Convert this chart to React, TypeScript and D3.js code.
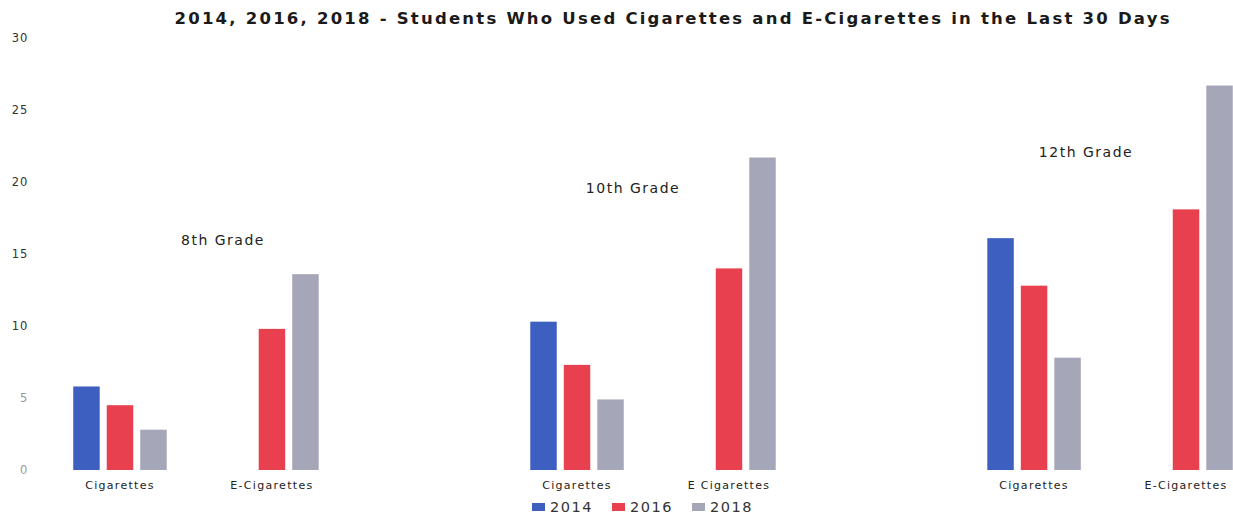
import React from "react";
import * as d3 from "d3";

const grades = ["8th Grade", "10th Grade", "12th Grade"];
const products = ["Cigarettes", "E-Cigarettes"];
const productLabels = [
  ["Cigarettes", "E-Cigarettes"],
  ["Cigarettes", "E Cigarettes"],
  ["Cigarettes", "E-Cigarettes"],
];
const years = ["2014", "2016", "2018"];
// values[grade][product]; null = not reported
const values2014 = [[5.8, null], [10.3, null], [16.1, null]];
const values2016 = [[4.5, 9.8], [7.3, 14.0], [12.8, 18.1]];
const values2018 = [[2.8, 13.6], [4.9, 21.7], [7.8, 26.7]];
const gradeLabelValue = [16.0, 19.6, 22.1];
const yTicks = [0, 5, 10, 15, 20, 25, 30];
const colors = ["#3d5fbf", "#e8404e", "#a6a6b9"];

const W = 1233;
const H = 515;
const gradeLabelOffset = [27, -20, -24];

export default function App() {
  const y = d3.scaleLinear().domain([0, 30]).range([470, 38]);
  const xGrade = d3
    .scaleBand<string>()
    .domain(grades)
    .range([44, 1262])
    .paddingInner(0.335)
    .paddingOuter(0);
  const xProd = d3
    .scaleBand<string>()
    .domain(products)
    .range([0, xGrade.bandwidth()]);
  const half = xProd.bandwidth() / 2;
  const xYear = d3
    .scaleBand<string>()
    .domain(years)
    .range([half - 46.75, half + 46.75])
    .paddingInner(0.21)
    .paddingOuter(0);
  const series = [values2014, values2016, values2018];
  const font = "'DejaVu Sans', Verdana, sans-serif";

  return (
    <svg width={W} height={H} style={{ position: "absolute", left: 0, top: 0, background: "#fff" }}>
      <text
        x={672}
        y={24}
        textAnchor="middle"
        fontFamily={font}
        fontWeight="bold"
        fontSize={16.5}
        fill="#1a1a1a"
        textLength={995}
        lengthAdjust="spacing"
      >
        2014, 2016, 2018 - Students Who Used Cigarettes and E-Cigarettes in the Last 30 Days
      </text>
      {yTicks.map((t) => (
        <text
          key={t}
          x={28}
          y={y(t) + 4}
          textAnchor="end"
          fontFamily={font}
          fontSize={11.5}
          fill={t <= 5 ? "#9a9a9a" : "#333"}
          letterSpacing={0.8}
        >
          {t}
        </text>
      ))}
      {grades.map((g, gi) => (
        <g key={g} transform={`translate(${xGrade(g)},0)`}>
          {products.map((p, pi) => (
            <g key={p} transform={`translate(${xProd(p)},0)`}>
              {years.map((yr, yi) => {
                const v = series[yi][gi][pi];
                if (v == null) return null;
                return (
                  <rect
                    key={yr}
                    x={xYear(yr)}
                    y={y(v)}
                    width={xYear.bandwidth()}
                    height={y(0) - y(v)}
                    fill={colors[yi]}
                  />
                );
              })}
              <text
                x={half}
                y={489}
                textAnchor="middle"
                fontFamily={font}
                fontSize={11}
                fill="#222"
                letterSpacing={1.3}
              >
                {productLabels[gi][pi]}
              </text>
            </g>
          ))}
          <text
            x={xGrade.bandwidth() / 2 + gradeLabelOffset[gi]}
            y={y(gradeLabelValue[gi]) + 5}
            textAnchor="middle"
            fontFamily={font}
            fontSize={14}
            fill="#222"
            letterSpacing={1.5}
          >
            {g}
          </text>
        </g>
      ))}
      {years.map((yr, i) => (
        <g key={yr} transform={`translate(${532 + i * 80},0)`}>
          <rect x={0} y={503} width={13} height={8} fill={colors[i]} />
          <text x={18} y={512} fontFamily={font} fontSize={14.5} fill="#333" letterSpacing={1.5}>
            {yr}
          </text>
        </g>
      ))}
    </svg>
  );
}
